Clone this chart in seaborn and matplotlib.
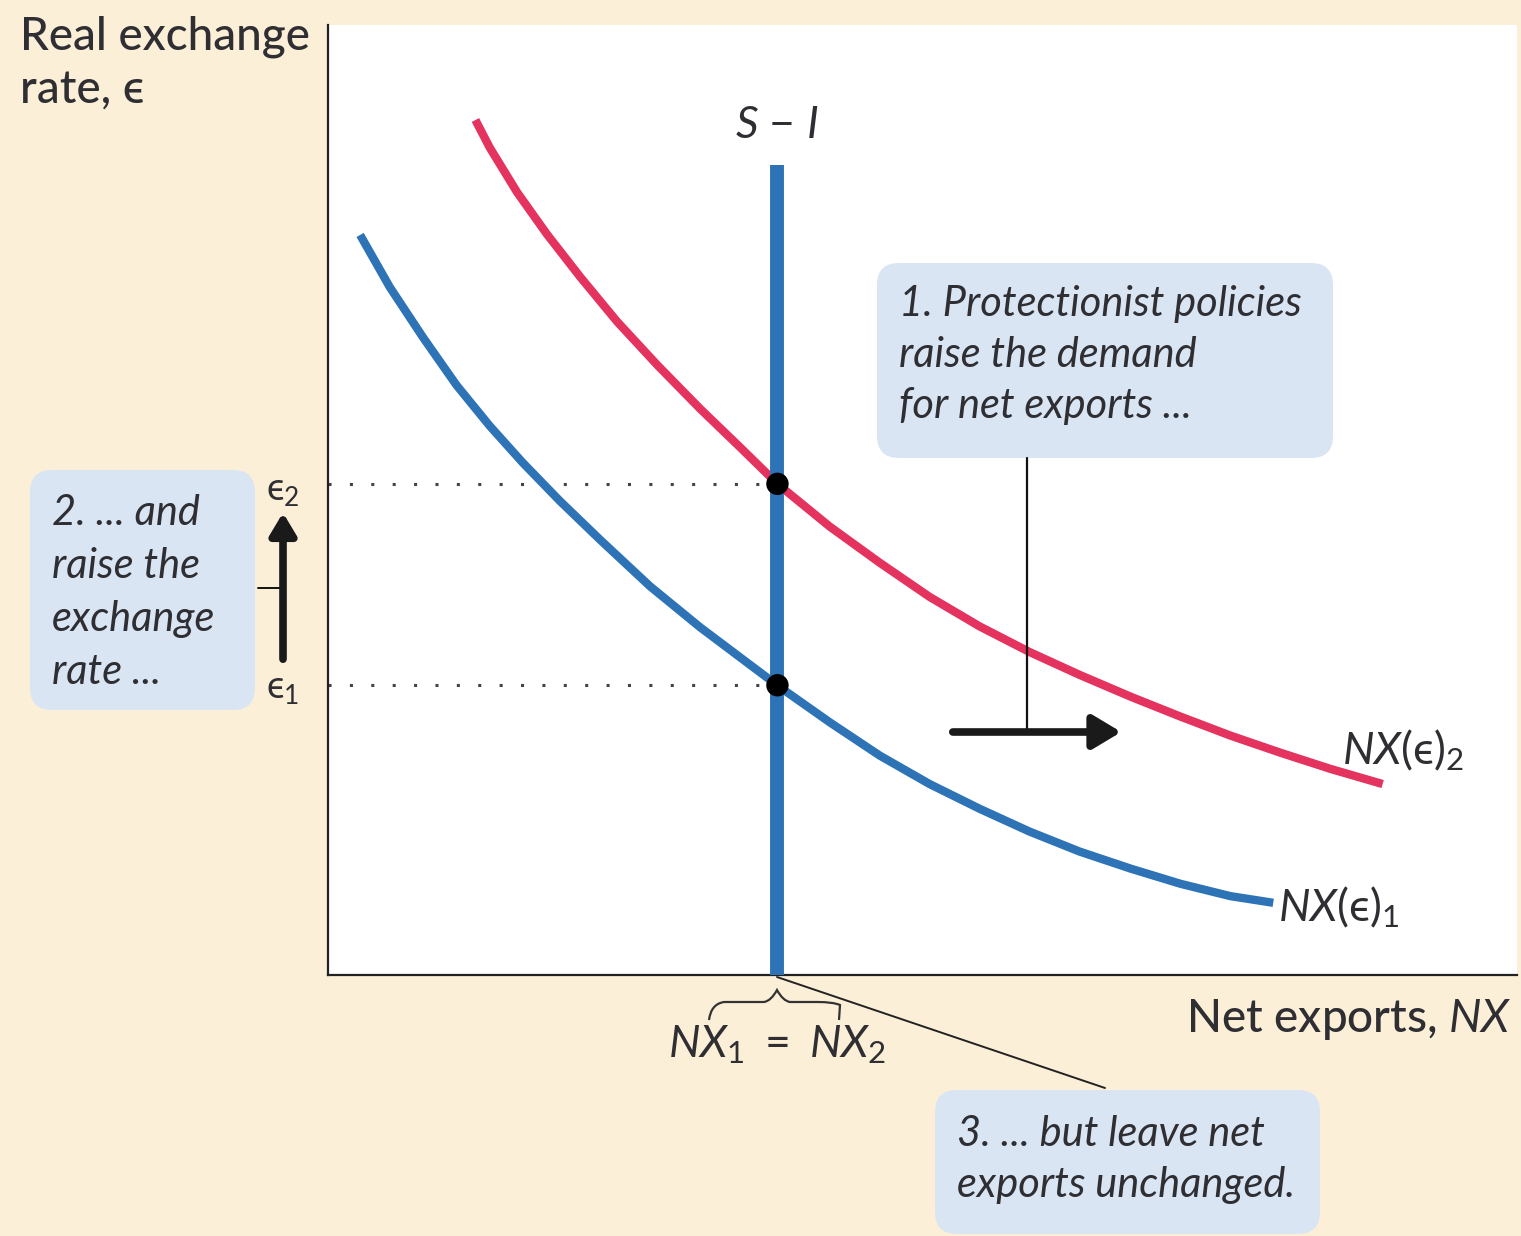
import numpy as np
import pandas as pd
import seaborn as sns
import matplotlib.pyplot as plt
from matplotlib.patches import FancyBboxPatch, FancyArrowPatch, PathPatch
from matplotlib.path import Path
from matplotlib.transforms import Affine2D

sns.set_style("white")
plt.rcParams['font.family'] = ['Lato', 'DejaVu Sans']
plt.rcParams['mathtext.fontset'] = 'custom'
plt.rcParams['mathtext.rm'] = 'Lato'
plt.rcParams['mathtext.it'] = 'Lato:italic'
plt.rcParams['mathtext.bf'] = 'Lato:bold'
plt.rcParams['mathtext.fallback'] = 'stixsans'

# points (x = net exports, y = real exchange rate, 0-100 scale)
nx1_x = [2.7, 5.2, 8.0, 10.8, 13.6, 16.4, 19.5, 22.9, 27.1, 31.3, 34.7,
         38.0, 42.2, 46.4, 50.6, 54.8, 59.0, 63.2, 67.5, 71.7, 75.9, 79.5]
nx1_y = [77.9, 72.4, 67.1, 62.1, 57.8, 53.9, 49.9, 45.8, 40.9, 36.6, 33.4,
         30.3, 26.6, 23.1, 20.1, 17.5, 15.1, 13.0, 11.2, 9.6, 8.3, 7.6]
nx2_x = [12.4, 13.6, 15.9, 18.4, 21.2, 24.3, 27.7, 31.3, 34.7, 37.8, 42.2,
         46.4, 50.6, 54.8, 59.0, 63.2, 67.5, 71.7, 75.9, 80.1, 84.3, 88.7]
nx2_y = [90.0, 87.1, 82.4, 78.0, 73.5, 68.8, 64.2, 59.6, 55.5, 51.7, 47.2,
         43.4, 39.8, 36.7, 34.0, 31.6, 29.3, 27.2, 25.2, 23.4, 21.7, 20.1]
s_minus_i_x = [37.8, 37.8]
s_minus_i_y = [0.0, 85.3]
eq_x = [37.8, 37.8]
eq_y = [30.5, 51.7]

RED = '#E3335E'
BLUE = '#2D73B6'
INK = '#2E2E33'
BOX = '#D9E5F3'

W, H = 1521, 1236
fig = plt.figure(figsize=(W / 100, H / 100), dpi=100, facecolor='#FCEFD8')
# pixel coordinates of the picture: pxT has y pointing down, pxU y pointing up
pxT = Affine2D().scale(1 / W, -1 / H).translate(0, 1) + fig.transFigure
pxU = Affine2D().scale(1 / W, 1 / H) + fig.transFigure

ax = fig.add_axes([328 / W, 1 - 975 / H, (1517 - 328) / W, (975 - 25) / H])
ax.set_facecolor('white')
ax.set_xlim(0, 100)
ax.set_ylim(0, 100)
ax.set_xticks([])
ax.set_yticks([])
for side in ['top', 'right']:
    ax.spines[side].set_visible(False)
for side in ['left', 'bottom']:
    ax.spines[side].set_color('#222222')
    ax.spines[side].set_linewidth(1.6)

ax.hlines(eq_y, 0, eq_x[0], colors='#444444', linestyles=(0, (1, 6)), lw=2.2, zorder=1)

sns.lineplot(x=nx1_x, y=nx1_y, estimator=None, sort=False, color=BLUE, lw=6,
             solid_capstyle='butt', ax=ax, zorder=2)
sns.lineplot(x=nx2_x, y=nx2_y, estimator=None, sort=False, color=RED, lw=6,
             solid_capstyle='butt', ax=ax, zorder=2)
sns.lineplot(x=s_minus_i_x, y=s_minus_i_y, estimator=None, sort=False, color=BLUE, lw=10,
             solid_capstyle='butt', ax=ax, zorder=3)
sns.scatterplot(x=eq_x, y=eq_y, color='black', s=260, edgecolor='none', ax=ax, zorder=4)

# rounded annotation boxes (left, top, right, bottom in picture pixels)
for (x0, y0, x1, y1) in [(877, 263, 1333, 458), (30, 470, 255, 710), (935, 1090, 1320, 1234)]:
    fig.patches.append(FancyBboxPatch((x0, H - y1), x1 - x0, y1 - y0,
                                      boxstyle='round,pad=0,rounding_size=22',
                                      transform=pxU, facecolor=BOX, edgecolor='none', zorder=5))

txt = dict(transform=pxT, color=INK, style='italic', fontsize=30, linespacing=1.42,
           va='top', ha='left', zorder=6)
fig.text(899, 285, "1. Protectionist policies\nraise the demand\nfor net exports ...", **txt)
fig.text(52, 494, "2. ... and\nraise the\nexchange\nrate ...", linespacing=1.48,
         **{k: v for k, v in txt.items() if k != 'linespacing'})
fig.text(957, 1115, "3. ... but leave net\nexports unchanged.", **txt)

# connectors and arrows
fig.add_artist(plt.Line2D([1027, 1027], [458, 732], transform=pxT, color='#111111', lw=1.6, zorder=6))
fig.add_artist(FancyArrowPatch((950, 732), (1124, 732), transform=pxT,
                               arrowstyle='-|>,head_length=0.5,head_width=0.3',
                               mutation_scale=34, lw=5.5, color='#1a1a1a', zorder=6))
fig.add_artist(plt.Line2D([258, 283], [588, 588], transform=pxT, color='#111111', lw=1.4, zorder=6))
fig.add_artist(FancyArrowPatch((283, 662), (283, 510), transform=pxT,
                               arrowstyle='-|>,head_length=0.5,head_width=0.3',
                               mutation_scale=26, lw=5.5, color='#1a1a1a', zorder=6))
fig.add_artist(plt.Line2D([777, 1105], [977, 1088], transform=pxT, color='#222222', lw=1.4, zorder=6))

# brace under the axis
brace = Path([(709, 1020), (711, 1004), (724, 1002), (737, 1002),
              (764, 1002), (771, 1001), (777, 990), (783, 1001), (790, 1002), (818, 1002),
              (833, 1002), (840, 1005), (839, 1020)],
             [Path.MOVETO, Path.CURVE3, Path.CURVE3, Path.LINETO,
              Path.LINETO, Path.CURVE3, Path.CURVE3, Path.CURVE3, Path.CURVE3, Path.LINETO,
              Path.CURVE3, Path.CURVE3, Path.LINETO])
fig.patches.append(PathPatch(brace, transform=pxT, facecolor='none', edgecolor='#333333', lw=1.6))

lab = dict(transform=pxT, color=INK, fontsize=32)
fig.text(20, 16, "Real exchange\nrate, ϵ", va='top', ha='left', fontsize=33, color=INK,
         weight='medium', linespacing=1.3, transform=pxT)
fig.text(1512, 1020, r"Net exports, $NX$", va='center', ha='right', fontsize=33, color=INK,
         weight='medium', transform=pxT)
fig.text(777, 126, r"$S$ − $I$", va='center', ha='center', **lab)
fig.text(777, 1045, r"$NX_{1}\ =\ NX_{2}$", va='center', ha='center', **lab)
fig.text(1342, 750, r"$NX$(ϵ)$_{2}$", va='center', ha='left', **lab)
fig.text(1278, 907, r"$NX$(ϵ)$_{1}$", va='center', ha='left', **lab)
fig.text(283, 490, r"ϵ$_{2}$", va='center', ha='center', fontsize=27, color=INK, transform=pxT)
fig.text(283, 688, r"ϵ$_{1}$", va='center', ha='center', fontsize=27, color=INK, transform=pxT)

fig.savefig('out.png', dpi=100, facecolor=fig.get_facecolor())
